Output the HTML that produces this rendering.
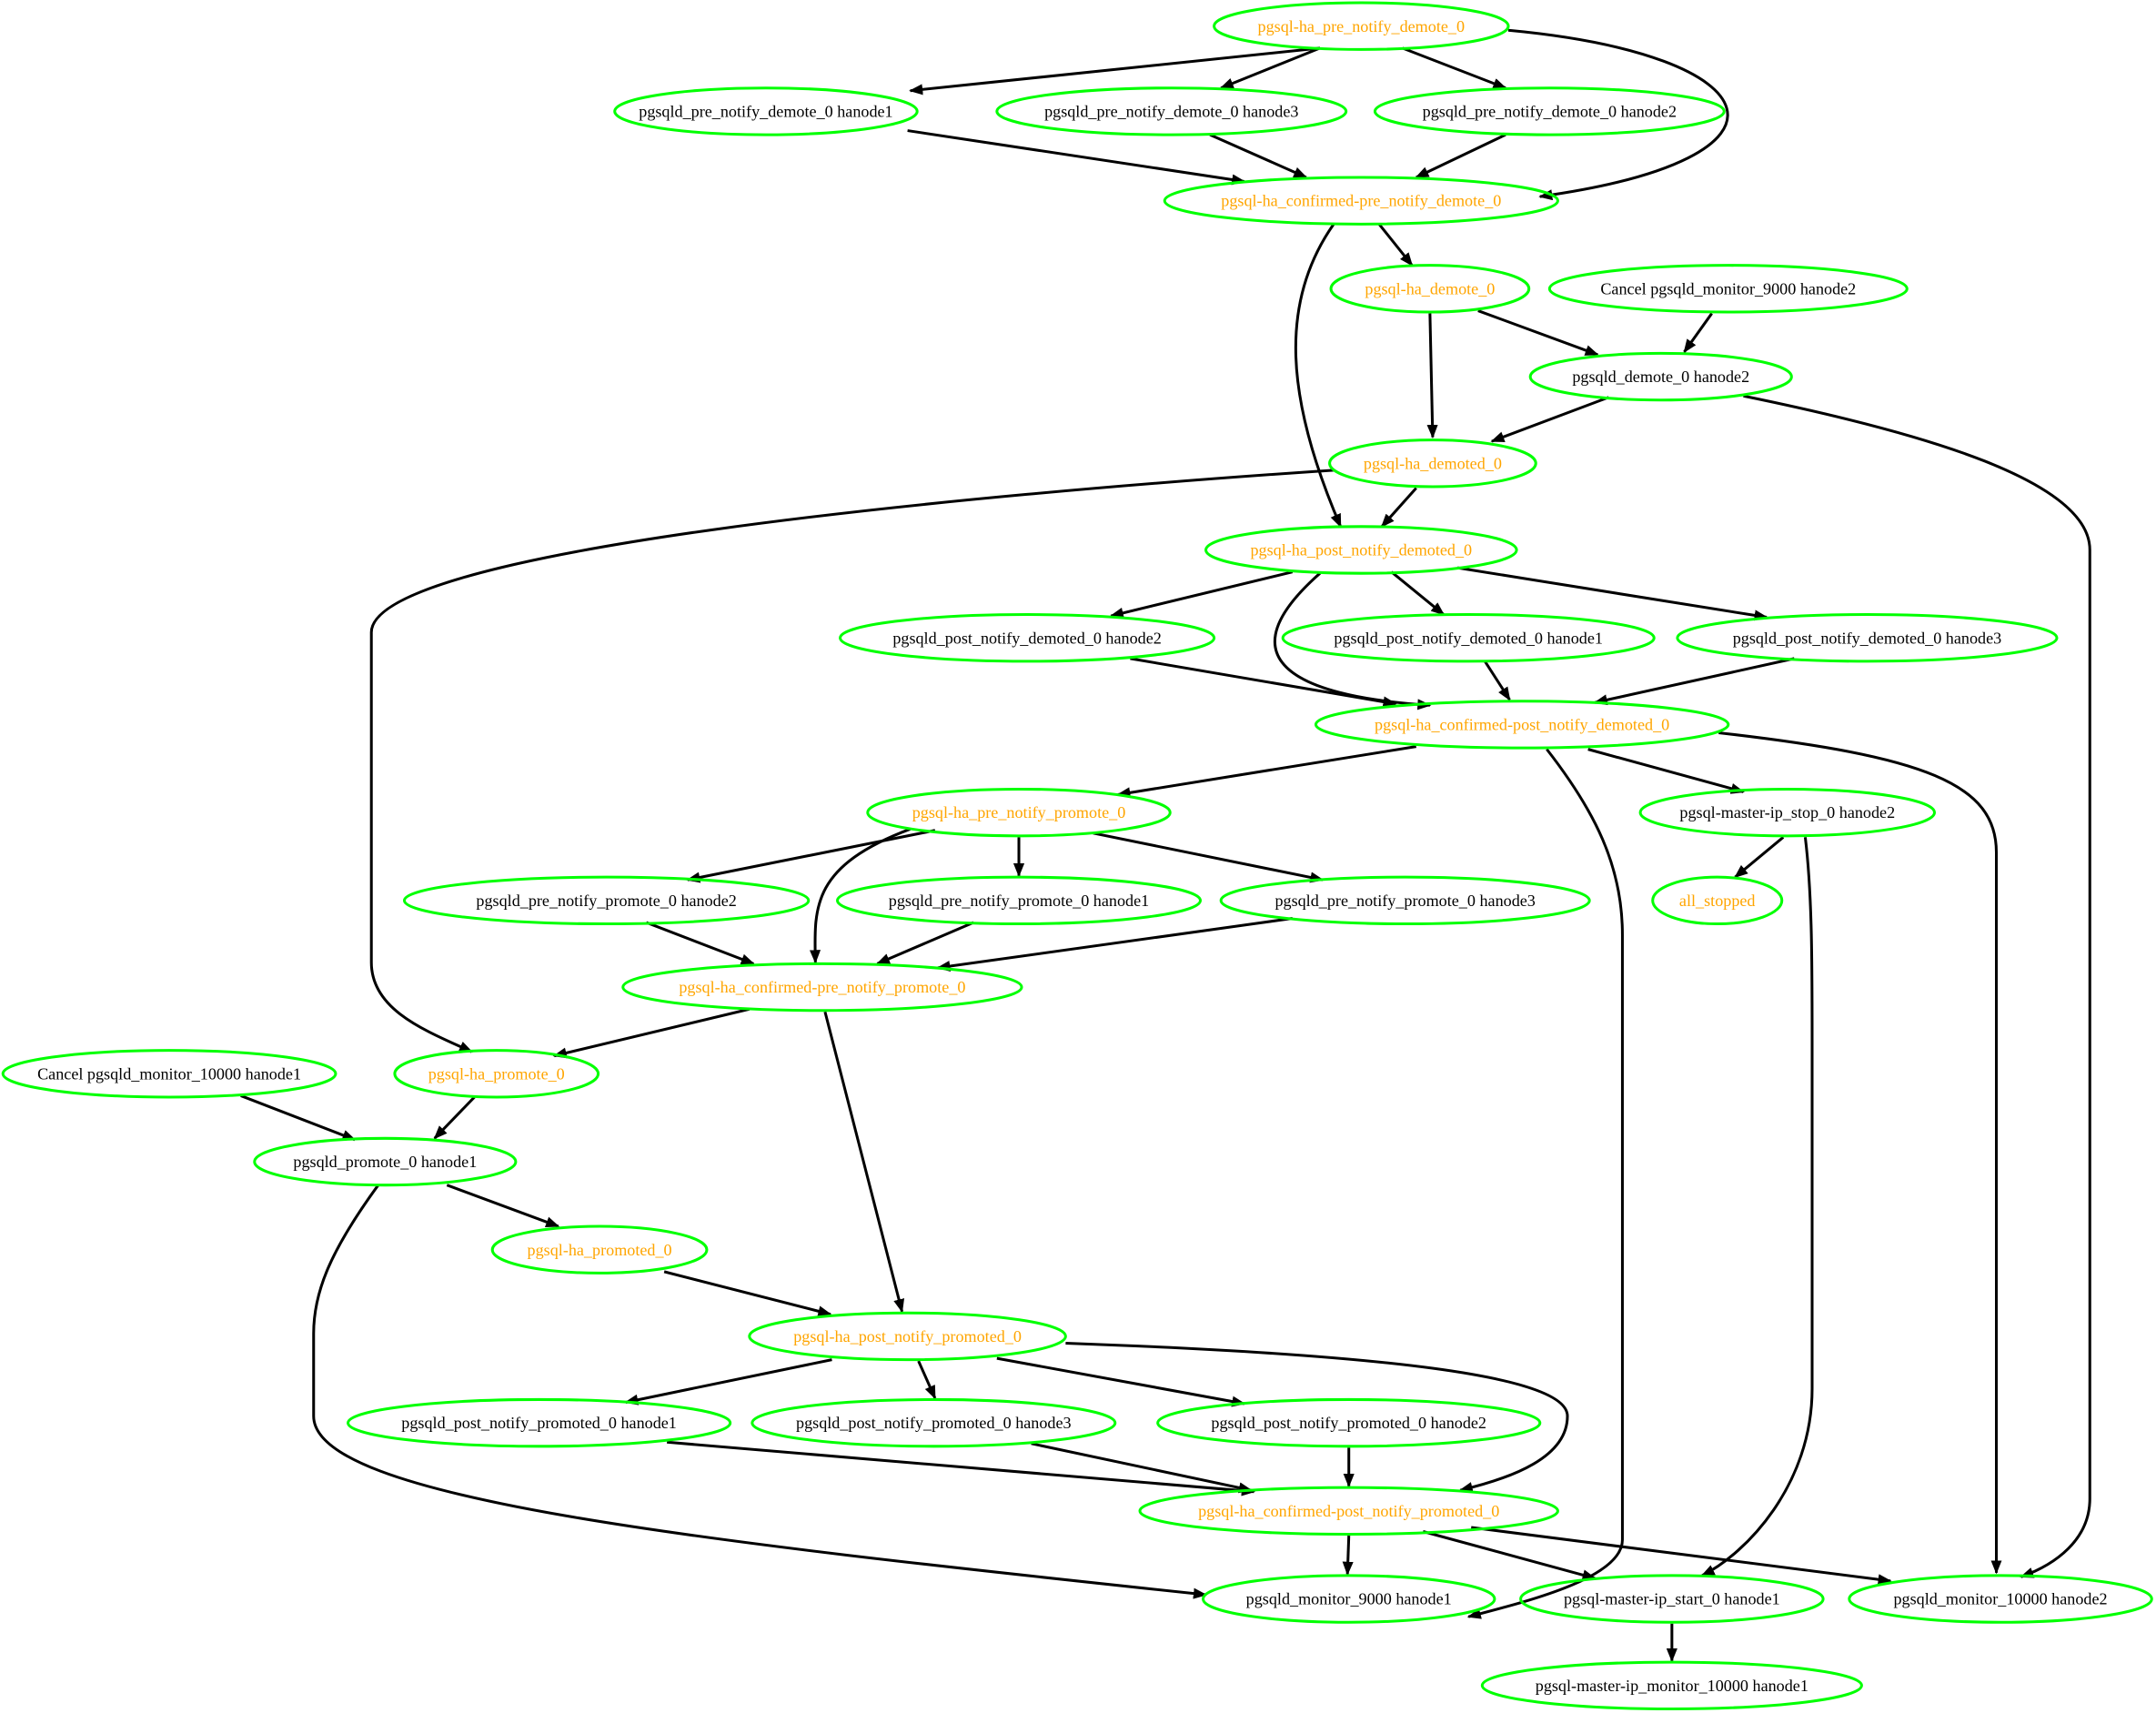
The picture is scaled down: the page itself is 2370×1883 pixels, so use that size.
<!DOCTYPE html>
<html><head><meta charset="utf-8"><style>html,body{margin:0;padding:0;background:#fff}svg{display:block}</style></head>
<body>
<svg width="2370" height="1883" viewBox="0 0 1568 1246" xmlns="http://www.w3.org/2000/svg">
<defs><marker id="a" markerWidth="10" markerHeight="8" refX="9" refY="4" orient="auto" markerUnits="userSpaceOnUse"><path d="M0,0 L10,4 L0,8 z" fill="#000"/></marker></defs>
<g fill="none" stroke="#000" stroke-width="2" marker-end="url(#a)">
<path d="M960,35 L662,66"/>
<path d="M960,35 L888,64"/>
<path d="M1020,35 L1095,64"/>
<path d="M1097,22 C1290,40 1320,115 1120,143"/>
<path d="M660,95 L905,132"/>
<path d="M880,98 L950,129"/>
<path d="M1095,98 L1030,129"/>
<path d="M1003,163 L1027,193"/>
<path d="M970,163 C930,220 935,290 975,383"/>
<path d="M1040,228 L1042,318"/>
<path d="M1075,226 L1162,258"/>
<path d="M1245,228 L1225,256"/>
<path d="M1170,289 L1085,321"/>
<path d="M1268,288 C1400,315 1520,350 1520,400 L1520,1090 C1520,1120 1495,1138 1470,1147"/>
<path d="M1030,355 L1005,383"/>
<path d="M970,342 C700,360 270,400 270,460 L270,700 C270,735 310,750 343,765"/>
<path d="M940,416 L808,448"/>
<path d="M1012,416 L1050,447"/>
<path d="M1060,413 L1285,449"/>
<path d="M960,417 C900,470 920,505 1040,513"/>
<path d="M822,479 L1015,512"/>
<path d="M1080,481 L1098,509"/>
<path d="M1305,479 L1160,511"/>
<path d="M1030,543 L813,578"/>
<path d="M1155,545 L1268,576"/>
<path d="M1250,533 C1400,550 1452,570 1452,620 L1452,1144"/>
<path d="M1125,545 C1160,590 1180,630 1180,680 L1180,1120 C1180,1148 1110,1165 1068,1176"/>
<path d="M680,604 L500,640"/>
<path d="M741,609 L741,637"/>
<path d="M795,606 L962,640"/>
<path d="M662,603 C590,630 592,660 593,700"/>
<path d="M1297,609 L1262,638"/>
<path d="M1313,609 C1318,650 1318,700 1318,760 L1318,1010 C1318,1080 1270,1130 1238,1146"/>
<path d="M470,671 L548,701"/>
<path d="M708,671 L638,701"/>
<path d="M940,668 L682,704"/>
<path d="M545,734 L403,768"/>
<path d="M600,736 L656,954"/>
<path d="M175,797 L258,829"/>
<path d="M345,798 L316,828"/>
<path d="M325,862 L406,892"/>
<path d="M275,862 C240,910 228,940 228,970 L228,1030 C228,1090 500,1120 877,1160"/>
<path d="M483,925 L604,956"/>
<path d="M605,989 L455,1020"/>
<path d="M668,990 L680,1017"/>
<path d="M725,988 L905,1021"/>
<path d="M775,977 C1000,985 1140,1000 1140,1030 C1140,1060 1100,1075 1062,1084"/>
<path d="M485,1049 L912,1085"/>
<path d="M750,1050 L910,1084"/>
<path d="M981,1053 L981,1081"/>
<path d="M981,1117 L980,1145"/>
<path d="M1035,1114 L1160,1148"/>
<path d="M1070,1111 L1375,1150"/>
<path d="M1216,1181 L1216,1208"/>
</g>
<g fill="none" stroke="#00ff00" stroke-width="2">
<ellipse cx="990" cy="19" rx="107" ry="17"/>
<ellipse cx="557" cy="81" rx="110" ry="17"/>
<ellipse cx="852" cy="81" rx="127" ry="17"/>
<ellipse cx="1127" cy="81" rx="127" ry="17"/>
<ellipse cx="990" cy="146" rx="143" ry="17"/>
<ellipse cx="1040" cy="210" rx="72" ry="17"/>
<ellipse cx="1257" cy="210" rx="130" ry="17"/>
<ellipse cx="1208" cy="274" rx="95" ry="17"/>
<ellipse cx="1042" cy="337" rx="75" ry="17"/>
<ellipse cx="990" cy="400" rx="113" ry="17"/>
<ellipse cx="747" cy="464" rx="136" ry="17"/>
<ellipse cx="1068" cy="464" rx="135" ry="17"/>
<ellipse cx="1358" cy="464" rx="138" ry="17"/>
<ellipse cx="1107" cy="527" rx="150" ry="17"/>
<ellipse cx="741" cy="591" rx="110" ry="17"/>
<ellipse cx="1300" cy="591" rx="107" ry="17"/>
<ellipse cx="441" cy="655" rx="147" ry="17"/>
<ellipse cx="741" cy="655" rx="132" ry="17"/>
<ellipse cx="1022" cy="655" rx="134" ry="17"/>
<ellipse cx="1249" cy="655" rx="47" ry="17"/>
<ellipse cx="598" cy="718" rx="145" ry="17"/>
<ellipse cx="123" cy="781" rx="121" ry="17"/>
<ellipse cx="361" cy="781" rx="74" ry="17"/>
<ellipse cx="280" cy="845" rx="95" ry="17"/>
<ellipse cx="436" cy="909" rx="78" ry="17"/>
<ellipse cx="660" cy="972" rx="115" ry="17"/>
<ellipse cx="392" cy="1035" rx="139" ry="17"/>
<ellipse cx="679" cy="1035" rx="132" ry="17"/>
<ellipse cx="981" cy="1035" rx="139" ry="17"/>
<ellipse cx="981" cy="1099" rx="152" ry="17"/>
<ellipse cx="981" cy="1163" rx="106" ry="17"/>
<ellipse cx="1216" cy="1163" rx="110" ry="17"/>
<ellipse cx="1455" cy="1163" rx="110" ry="17"/>
<ellipse cx="1216" cy="1226" rx="138" ry="17"/>
</g>
<g font-family="Liberation Serif, serif" font-size="12" text-anchor="middle" fill="#000">
<text x="990" y="23" fill="#ffa500">pgsql-ha_pre_notify_demote_0</text>
<text x="557" y="85">pgsqld_pre_notify_demote_0 hanode1</text>
<text x="852" y="85">pgsqld_pre_notify_demote_0 hanode3</text>
<text x="1127" y="85">pgsqld_pre_notify_demote_0 hanode2</text>
<text x="990" y="150" fill="#ffa500">pgsql-ha_confirmed-pre_notify_demote_0</text>
<text x="1040" y="214" fill="#ffa500">pgsql-ha_demote_0</text>
<text x="1257" y="214">Cancel pgsqld_monitor_9000 hanode2</text>
<text x="1208" y="278">pgsqld_demote_0 hanode2</text>
<text x="1042" y="341" fill="#ffa500">pgsql-ha_demoted_0</text>
<text x="990" y="404" fill="#ffa500">pgsql-ha_post_notify_demoted_0</text>
<text x="747" y="468">pgsqld_post_notify_demoted_0 hanode2</text>
<text x="1068" y="468">pgsqld_post_notify_demoted_0 hanode1</text>
<text x="1358" y="468">pgsqld_post_notify_demoted_0 hanode3</text>
<text x="1107" y="531" fill="#ffa500">pgsql-ha_confirmed-post_notify_demoted_0</text>
<text x="741" y="595" fill="#ffa500">pgsql-ha_pre_notify_promote_0</text>
<text x="1300" y="595">pgsql-master-ip_stop_0 hanode2</text>
<text x="441" y="659">pgsqld_pre_notify_promote_0 hanode2</text>
<text x="741" y="659">pgsqld_pre_notify_promote_0 hanode1</text>
<text x="1022" y="659">pgsqld_pre_notify_promote_0 hanode3</text>
<text x="1249" y="659" fill="#ffa500">all_stopped</text>
<text x="598" y="722" fill="#ffa500">pgsql-ha_confirmed-pre_notify_promote_0</text>
<text x="123" y="785">Cancel pgsqld_monitor_10000 hanode1</text>
<text x="361" y="785" fill="#ffa500">pgsql-ha_promote_0</text>
<text x="280" y="849">pgsqld_promote_0 hanode1</text>
<text x="436" y="913" fill="#ffa500">pgsql-ha_promoted_0</text>
<text x="660" y="976" fill="#ffa500">pgsql-ha_post_notify_promoted_0</text>
<text x="392" y="1039">pgsqld_post_notify_promoted_0 hanode1</text>
<text x="679" y="1039">pgsqld_post_notify_promoted_0 hanode3</text>
<text x="981" y="1039">pgsqld_post_notify_promoted_0 hanode2</text>
<text x="981" y="1103" fill="#ffa500">pgsql-ha_confirmed-post_notify_promoted_0</text>
<text x="981" y="1167">pgsqld_monitor_9000 hanode1</text>
<text x="1216" y="1167">pgsql-master-ip_start_0 hanode1</text>
<text x="1455" y="1167">pgsqld_monitor_10000 hanode2</text>
<text x="1216" y="1230">pgsql-master-ip_monitor_10000 hanode1</text>
</g>
</svg>
</body></html>
